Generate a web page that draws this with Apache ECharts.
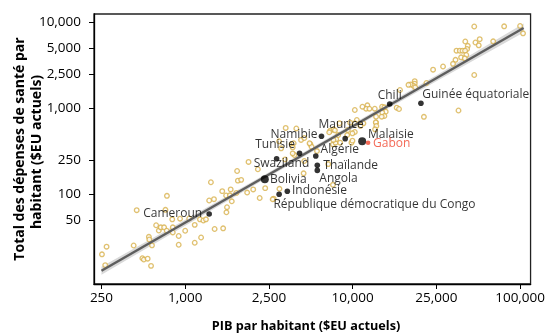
<!DOCTYPE html>
<html>
<head>
<meta charset="utf-8">
<script src="https://cdn.jsdelivr.net/npm/echarts@6/dist/echarts.min.js"></script>
<style>
  html, body { margin: 0; padding: 0; background: #fff; }
  #chart { width: 548px; height: 335px; }
</style>
</head>
<body>
<div id="chart"></div>
<script>
// tick labels on the x axis are evenly spaced (log within each interval)
const xTicks = [250, 1000, 2500, 10000, 25000, 100000];
const xTickLabels = ['250', '1,000', '2,500', '10,000', '25,000', '100,000'];
const yTicks = [50, 100, 250, 1000, 2500, 5000, 10000];
const yTickLabels = ['50', '100', '250', '1,000', '2,500', '5,000', '10,000'];

// other countries (open circles)
const otherGdp = [
  252, 272, 266, 426, 448, 492, 504, 537, 568, 548, 552, 577, 618, 646, 667, 705, 737, 739, 721, 814,
  814, 807, 898, 898, 918, 1000, 1045, 1110, 1110, 1190, 1175, 1220, 1255, 1300, 1370, 1325, 1380, 1515, 1500, 1565,
  1580, 1570, 1645, 1630, 1665, 1765, 1780, 1845, 1750, 2000, 2215, 2105, 2260, 2400, 2705, 2975, 3265, 3640, 3705, 4440,
  4490, 3810, 4960, 5540, 6675, 7215, 7215, 7530, 9805, 3060, 4255, 5065, 3705, 2660, 1970, 3300, 3935, 2960, 4490, 4900,
  3765, 6900, 7285, 8045, 7615, 7285, 8135, 10240, 9600, 10470, 11250, 10240, 11750, 11590, 12010, 12740, 12920, 12920, 13800, 16790,
  16195, 16610, 11130, 14150, 14360, 13840, 14150, 13750, 10240, 12880, 12960, 12780, 10890, 9965, 9965, 9240, 7455, 6785, 7870, 9135,
  46800, 76800, 100000, 105000, 64050, 51250, 47740, 50420, 40350, 42050, 41570, 34890, 36840, 38525, 40210, 41025, 37645, 40015, 34320, 32930,
  27920, 24116, 46800, 22425, 19730, 19730, 19410, 18867, 18425, 19838, 21813, 36060
];
const otherHealth = [
  19.9, 24.4, 14.9, 25.2, 64.8, 17.9, 17.3, 17.7, 14.6, 31.8, 29.6, 25.3, 43.3, 37.6, 41.0, 41.0, 37.4, 95.3, 65.5, 41.0,
  35.7, 50.8, 32.5, 25.7, 51.6, 37.4, 51.9, 43.8, 27.1, 31.2, 50.8, 49.2, 50.8, 84.0, 87.0, 137, 39.2, 39.9, 108, 96.1,
  70.2, 61.3, 113, 96.6, 82.3, 185, 143, 146, 103, 236, 194, 113, 89.9, 117, 88.2, 115, 253, 381, 349, 174,
  242, 284, 381, 316, 223, 128, 378, 395, 395, 340, 425, 355, 297, 86.8, 104, 586, 578, 410, 448, 389,
  389, 545, 565, 664, 433, 425, 395, 526, 675, 725, 664, 948, 1075, 981, 981, 981, 792, 675, 1035, 1619,
  1008, 974, 1035, 1019, 906, 882, 807, 792, 664, 682, 618, 565, 618, 508, 417, 555, 550, 522, 485, 485,
  8870, 8910, 8990, 7390, 5965, 6310, 5776, 5359, 5933, 5288, 4853, 4638, 4638, 4638, 4638, 4134, 3886, 3784, 3635, 3266,
  3038, 2788, 2420, 1953, 2049, 1922, 1817, 1876, 1861, 1741, 790, 935
];

// highlighted countries
const countryNames = ['Cameroun', 'Swaziland', 'Tunisie', 'Bolivia', 'Indonésie', 'République démocratique du Congo',
  'Namibie', 'Algérie', 'Thaïlande', 'Angola', 'Maurice', 'Malaisie', 'Gabon', 'Chili', 'Guinée équatoriale'];
const countryGdp = [1300, 2840, 4150, 2390, 3390, 2960, 5970, 5430, 5570, 5570, 8840, 11100, 11840, 15000, 21110];
const countryHealth = [58.6, 257, 297, 148, 107.5, 99.5, 469, 277, 216, 188, 440, 410, 395, 1113, 1134];

// regression line and its confidence band
const fitGdp = [250, 106000];
const fitHealth = [12.8, 8520];
const bandGdp = [250, 1000, 2500, 10000, 25000, 106000];
const bandLow = [11.5, 42.8, 159, 578, 2049, 7550];
const bandHigh = [14.25, 50.3, 179, 650, 2408, 9610];

const FONT = '"Open Sans", "Noto Sans", sans-serif';

// where each country's name sits relative to its dot
const labelStyle = {
  'Cameroun': { align: 'right', dx: -7, dy: 0 },
  'Swaziland': { align: 'left', dx: -23, dy: 5 },
  'Tunisie': { align: 'right', dx: -4.5, dy: -8.3 },
  'Bolivia': { align: 'left', dx: 5.2, dy: 0, size: 8 },
  'Indonésie': { align: 'left', dx: 4.7, dy: -1 },
  'République démocratique du Congo': { align: 'left', dx: -5.7, dy: 10 },
  'Namibie': { align: 'right', dx: -4, dy: -1.3 },
  'Algérie': { align: 'left', dx: 4.8, dy: -6 },
  'Thaïlande': { align: 'left', dx: 6, dy: 0 },
  'Angola': { align: 'left', dx: 2, dy: 8.2 },
  'Maurice': { align: 'left', dx: -26.7, dy: -14 },
  'Malaisie': { align: 'left', dx: 5.8, dy: -7, size: 8 },
  'Gabon': { align: 'left', dx: 5, dy: 0.6, size: 4.6, color: '#f0442c' },
  'Chili': { align: 'center', dx: 0, dy: -8.3 },
  'Guinée équatoriale': { align: 'left', dx: 1.3, dy: -8.3 }
};

function xPos(v) {
  let i = 0;
  while (i < xTicks.length - 2 && v > xTicks[i + 1]) i++;
  return i + Math.log(v / xTicks[i]) / Math.log(xTicks[i + 1] / xTicks[i]);
}
const yPos = (v) => Math.log10(v);

const chart = echarts.init(document.getElementById('chart'));

const countryData = countryNames.map((name, i) => {
  const s = labelStyle[name];
  const color = s.color || '#000';
  const size = s.size || 5.6;
  return {
    name: name,
    value: [xPos(countryGdp[i]), yPos(countryHealth[i])],
    symbolSize: size,
    itemStyle: { color: color },
    label: {
      show: true,
      formatter: name,
      // position is relative to the symbol's box, so add half its size
      position: [size / 2 + s.dx, size / 2 + s.dy],
      align: s.align,
      verticalAlign: 'middle',
      color: color,
      fontFamily: FONT,
      fontSize: 12
    }
  };
});

chart.setOption({
  animation: false,
  grid: {
    left: 94, right: 16, top: 14, bottom: 51,
    show: true, borderColor: '#222', borderWidth: 1.3
  },
  xAxis: {
    type: 'value',
    min: -0.0893,
    max: 5.125,
    splitLine: { show: false },
    axisLine: { onZero: false, lineStyle: { color: '#000', width: 1.3 } },
    axisTick: { customValues: xTicks.map((t, i) => i), length: 5, lineStyle: { color: '#000', width: 1 } },
    axisLabel: {
      customValues: xTicks.map((t, i) => i),
      formatter: (v) => xTickLabels[Math.round(v)],
      color: '#000', fontFamily: FONT, fontSize: 13.5, margin: 7
    }
  },
  yAxis: {
    type: 'value',
    min: 0.9535,
    max: 4.093,
    splitLine: { show: false },
    axisLine: { onZero: false, lineStyle: { color: '#000', width: 1.3 } },
    axisTick: { customValues: yTicks.map(yPos), length: 5, lineStyle: { color: '#000', width: 1 } },
    axisLabel: {
      customValues: yTicks.map(yPos),
      formatter: (v) => {
        let best = 0;
        yTicks.forEach((t, i) => { if (Math.abs(yPos(t) - v) < Math.abs(yPos(yTicks[best]) - v)) best = i; });
        return yTickLabels[best];
      },
      color: '#000', fontFamily: FONT, fontSize: 13.5, margin: 13
    }
  },
  graphic: [
    {
      type: 'text', x: 306, y: 326,
      style: { text: 'PIB par habitant ($EU actuels)', font: 'bold 12.7px ' + FONT, fill: '#000', textAlign: 'center', textVerticalAlign: 'middle' }
    },
    {
      type: 'text', x: 20, y: 149, rotation: Math.PI / 2,
      style: { text: 'Total des dépenses de santé par', font: 'bold 14px ' + FONT, fill: '#000', textAlign: 'center', textVerticalAlign: 'middle' }
    },
    {
      type: 'text', x: 37, y: 152, rotation: Math.PI / 2,
      style: { text: 'habitant ($EU actuels)', font: 'bold 14px ' + FONT, fill: '#000', textAlign: 'center', textVerticalAlign: 'middle' }
    }
  ],
  series: [
    {
      // confidence band as one polygon: upper edge, then lower edge back
      type: 'custom', silent: true, z: 1,
      data: [0],
      renderItem: (params, api) => {
        const upper = bandGdp.map((g, i) => api.coord([xPos(g), yPos(bandHigh[i])]));
        const lower = bandGdp.map((g, i) => api.coord([xPos(g), yPos(bandLow[i])])).reverse();
        return { type: 'polygon', shape: { points: upper.concat(lower) }, style: { fill: '#d9d9d9' } };
      }
    },
    {
      type: 'scatter', z: 2,
      symbol: 'circle', symbolSize: 4.6,
      itemStyle: { color: '#fff', borderColor: '#d8b14e', borderWidth: 1.3 },
      data: otherGdp.map((g, i) => [xPos(g), yPos(otherHealth[i])])
    },
    {
      type: 'line', silent: true, symbol: 'none', z: 3,
      lineStyle: { color: '#5e5e5e', width: 2.5 },
      data: fitGdp.map((g, i) => [xPos(g), yPos(fitHealth[i])])
    },
    {
      type: 'scatter', z: 4,
      labelLayout: { hideOverlap: false },
      data: countryData
    }
  ]
});
</script>
</body>
</html>
